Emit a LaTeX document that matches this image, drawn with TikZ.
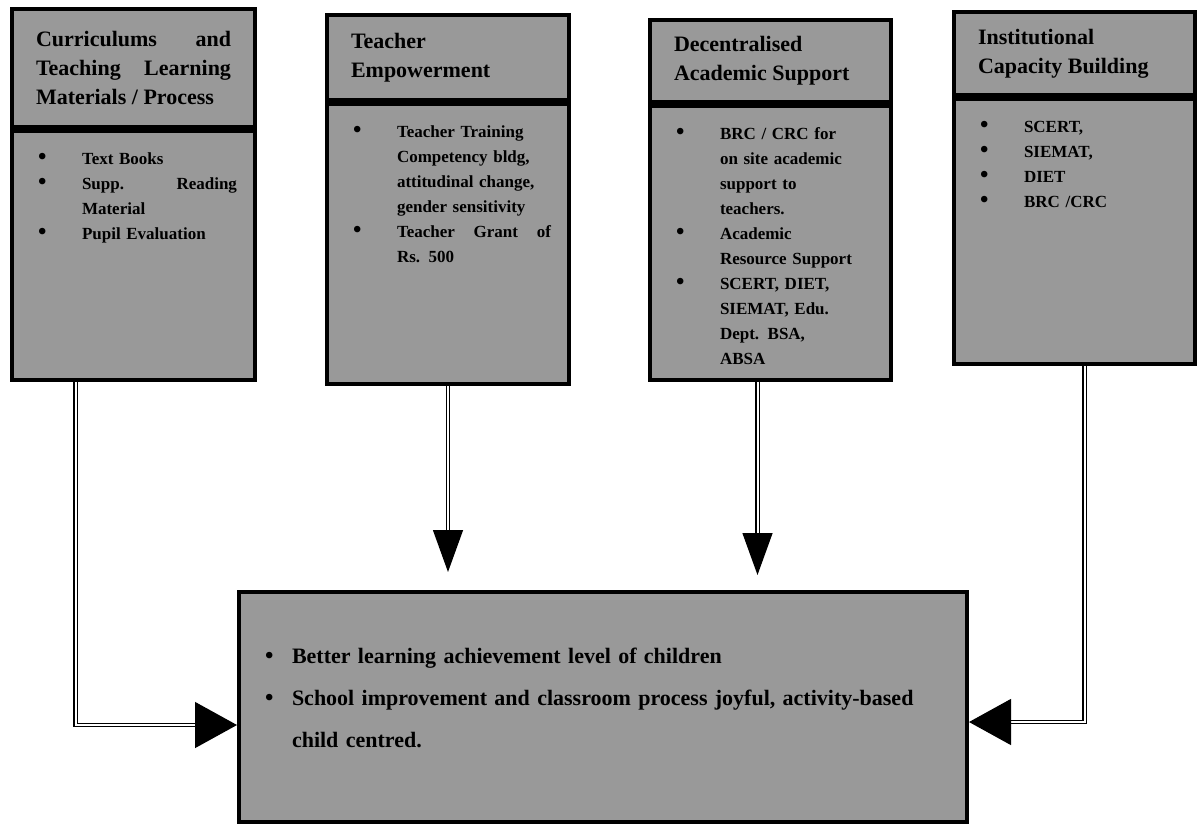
\documentclass[tikz,border=0pt]{standalone}
\usepackage{fontspec}
\setmainfont{Liberation Serif}
\usepackage{enumitem}
\usetikzlibrary{arrows.meta, positioning}
\setlist[itemize]{label={\fontsize{24}{10}\selectfont\textbullet}, leftmargin=52pt, labelindent=8pt, labelsep=6pt, labelwidth=38pt, align=left, itemsep=0pt, parsep=0pt, topsep=0pt, partopsep=0pt}
\newcommand{\panelfill}[2]{\parbox[c][#1][t]{\linewidth}{#2}}

\begin{document}
\begin{tikzpicture}[x=1pt, y=-1pt,
  head/.style={rectangle, draw, line width=4pt, fill=black!40, inner xsep=24pt, inner ysep=0pt, align=justify, font=\bfseries\fontsize{22}{29}\selectfont},
  panel/.style={rectangle, draw, line width=4pt, fill=black!40, inner xsep=18pt, inner ysep=22pt, font=\bfseries\fontsize{17}{25}\selectfont},
  arr/.style={double, double distance=2pt, line width=1.3pt, -{Triangle[length=42pt, width=30pt]}},
  arrside/.style={arr, -{Triangle[length=42pt, width=46pt]}},
  node distance=0pt]
\useasboundingbox (0,0) rectangle (1198,828);

% four input boxes
\node[head, text width=195pt, minimum height=118pt, anchor=north west] (hd1) at (10,7) {Curriculums \hfill and\\ Teaching \hfill Learning\\ Materials / Process};
\node[panel, text width=207pt, below=of hd1] (bd1) {\panelfill{205pt}{\begin{itemize}
  \item Text Books
  \item Supp. \hfill Reading\\ Material
  \item Pupil Evaluation
\end{itemize}}};

\node[head, text width=194pt, minimum height=85pt, anchor=north west] (hd2) at (325,13) {Teacher\\ Empowerment};
\node[panel, text width=206pt, below=of hd2] (bd2) {\panelfill{236pt}{\begin{itemize}
  \item Teacher Training\\ Competency bldg,\\ attitudinal change,\\ gender sensitivity
  \item Teacher \hfill Grant \hfill of\\ Rs. 500
\end{itemize}}};

\node[head, text width=193pt, minimum height=82pt, anchor=north west] (hd3) at (648,18) {Decentralised\\ Academic Support};
\node[panel, text width=205pt, below=of hd3] (bd3) {\panelfill{230pt}{\begin{itemize}
  \item BRC / CRC for\\ on site academic\\ support to\\ teachers.
  \item Academic\\ Resource Support
  \item SCERT, DIET,\\ SIEMAT, Edu.\\ Dept. BSA,\\ ABSA
\end{itemize}}};

\node[head, text width=193pt, minimum height=83pt, anchor=north west] (hd4) at (952,10) {Institutional\\ Capacity Building};
\node[panel, text width=205pt, below=of hd4] (bd4) {\panelfill{221pt}{\begin{itemize}
  \item SCERT,
  \item SIEMAT,
  \item DIET
  \item BRC /CRC
\end{itemize}}};

% outcome box
\node[panel, text width=676pt, inner xsep=26pt, inner ysep=16pt, anchor=north west, font=\bfseries\fontsize{22}{42}\selectfont] (out) at (237,590) {\panelfill{198pt}{\vspace*{40pt}\begin{itemize}[leftmargin=27pt, labelindent=0pt, labelwidth=20pt, labelsep=7pt]
  \item Better learning achievement level of children
  \item School improvement and classroom process joyful, activity-based\\ child centred.
\end{itemize}}};

% connectors
\draw[arrside] ([xshift=-58pt]bd1.south) |- ([yshift=-18pt]out.west);
\draw[arr, shorten >=18pt] (bd2.south) -- (bd2.south |- out.north);
\draw[arr, shorten >=15pt] ([xshift=-13pt]bd3.south) -- ([xshift=-13pt]bd3.south |- out.north);
\draw[arrside] ([xshift=10pt]bd4.south) |- ([yshift=-15pt]out.east);
\end{tikzpicture}
\end{document}
